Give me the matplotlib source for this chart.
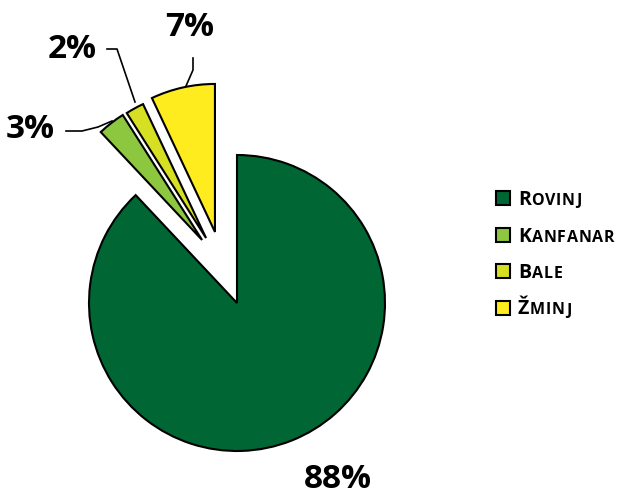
import matplotlib
matplotlib.use("Agg")
import matplotlib.pyplot as plt
from matplotlib.patches import Rectangle

# podaci
gradovi = ["Rovinj", "Kanfanar", "Bale", "Žminj"]
udjeli = [88, 3, 2, 7]
boje = ["#006633", "#8dc63f", "#d7df23", "#ffec1e"]
natpisi = ["88%", "3%", "2%", "7%"]
# pomak izvucenih isjecaka (u polumjerima)
pomaci = [(0, 0), (-0.236, 0.426), (-0.209, 0.439), (-0.149, 0.480)]

fig = plt.figure(figsize=(6.27, 4.96), dpi=100)
ax = fig.add_axes([0, 0, 1, 1])

R = 148.0  # polumjer u pikselima
cx, cy = 237.0, 193.0  # sredina u pikselima (od dolje)

wedges, _ = ax.pie(udjeli, colors=boje, startangle=90, counterclock=False,
                   radius=1.0,
                   wedgeprops=dict(edgecolor="black", linewidth=1.5))
for w, p in zip(wedges, pomaci):
    w.set_center(p)
ax.set_aspect("auto")
ax.set_xlim(-cx / R, (627 - cx) / R)
ax.set_ylim(-cy / R, (496 - cy) / R)
ax.axis("off")


def px(x, y):
    # piksel (od vrha) -> koordinate osi
    return (x - cx) / R, (496 - y - cy) / R


# postotci
pozicije = [(338, 480), (30, 130), (72, 50), (190, 28)]
for t, (x, y) in zip(natpisi, pozicije):
    ax.text(*px(x, y), t, fontsize=24, fontweight="bold", family="Open Sans",
            ha="center", va="center")

# linije do natpisa
linije = [
    [(66, 131), (82, 131), (98, 127), (112, 121)],
    [(107, 49), (117, 49), (135, 102)],
    [(193, 58), (193, 70), (186, 86)],
]
for lin in linije:
    xs, ys = zip(*[px(x, y) for x, y in lin])
    ax.plot(xs, ys, color="black", lw=1.2)

# legenda (mala slova kao kapitalke)
fig.canvas.draw()
rend = fig.canvas.get_renderer()
for i, (g, b) in enumerate(zip(gradovi, boje)):
    y = 198 + i * 36.5
    ax.add_patch(Rectangle(px(496, y + 7), 14 / R, 14 / R, facecolor=b,
                           edgecolor="black", lw=1.5, transform=ax.transData))
    t1 = ax.text(*px(518, y + 7), g[0].upper(), fontsize=14, fontweight="bold",
                 family="Open Sans", ha="left", va="baseline")
    bb = t1.get_window_extent(renderer=rend)
    x = 518 + bb.width + 0.5
    for ch in g[1:].upper():
        t = ax.text(*px(x, y + 7), ch, fontsize=11.5, fontweight="bold",
                    family="Open Sans", ha="left", va="baseline")
        x += t.get_window_extent(renderer=rend).width + 0.8

fig.savefig("out.png", dpi=100)
